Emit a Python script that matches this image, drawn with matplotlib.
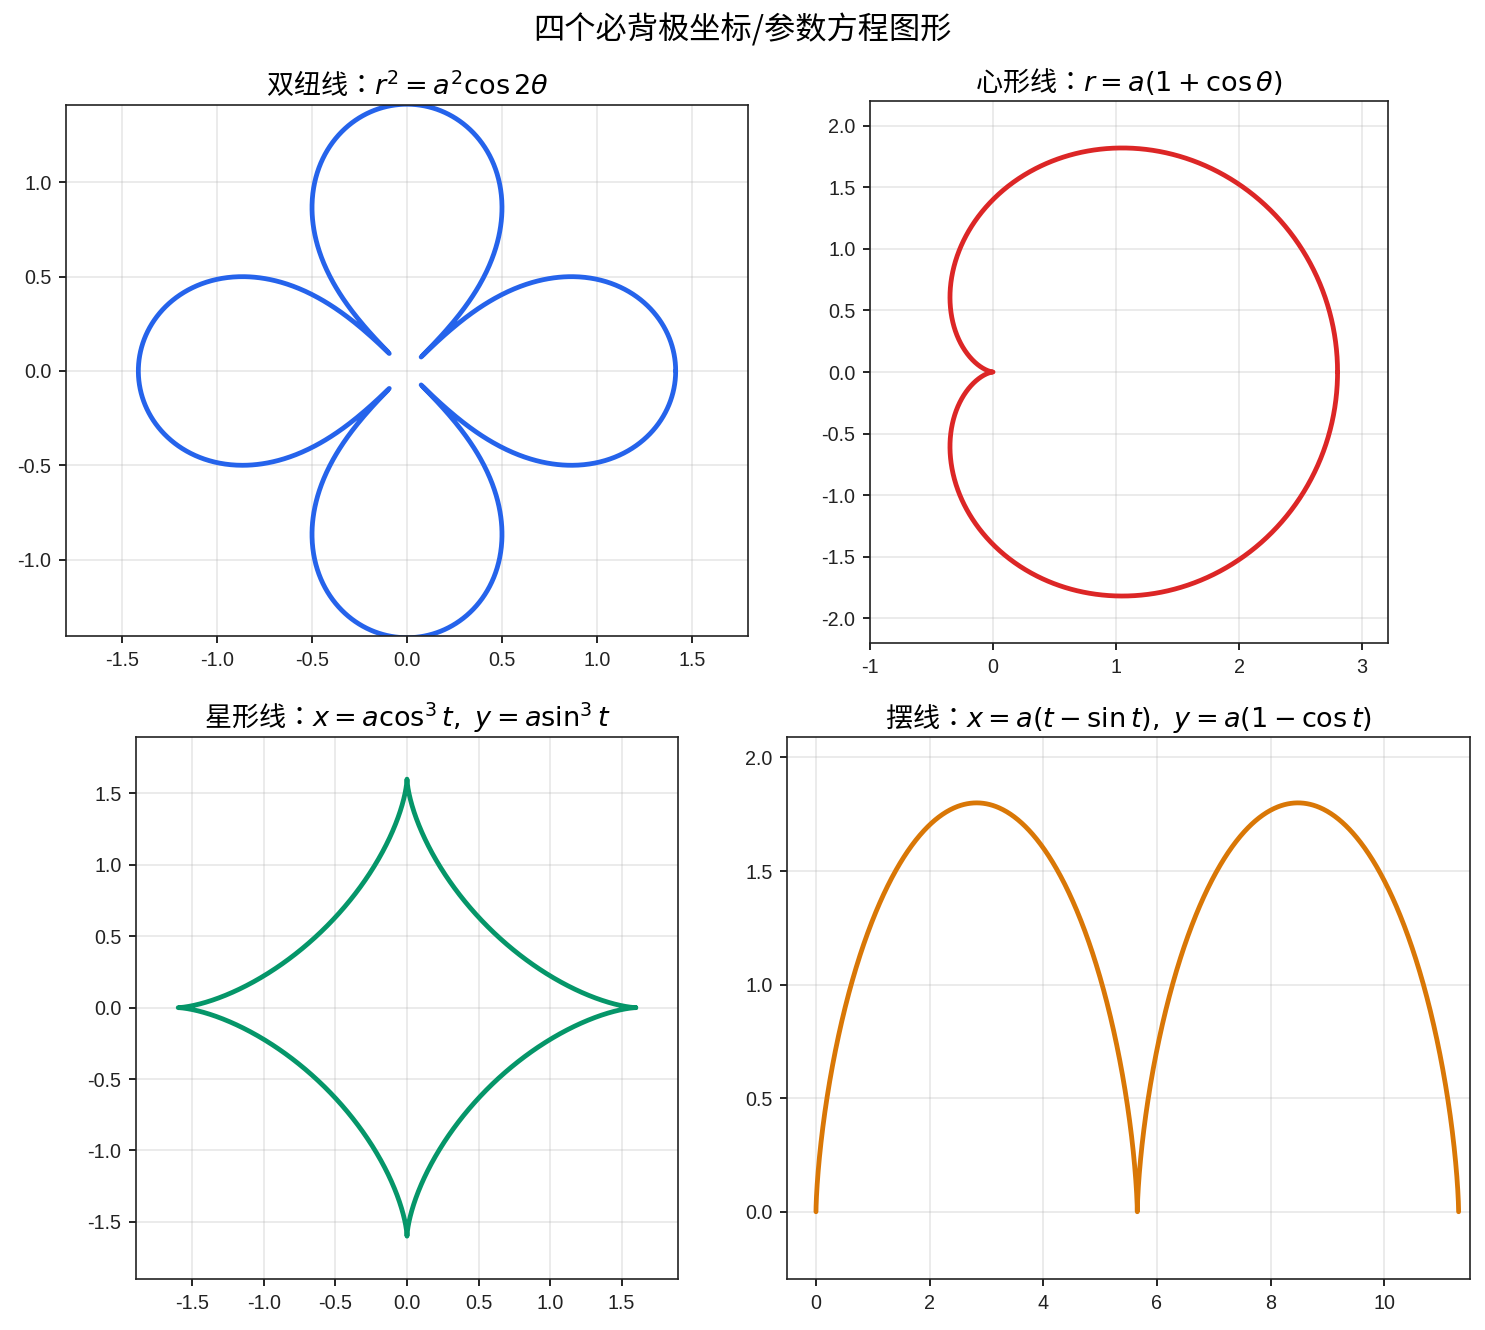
import numpy as np
from matplotlib import pyplot as plt

plt.rcParams['font.family'] = ['Noto Sans CJK TC', 'DejaVu Sans']
plt.rcParams['axes.unicode_minus'] = False

# curve parameters
lemniscate_a = np.sqrt(2)
cardioid_a = 1.4
astroid_a = 1.6
cycloid_a = 0.9

titles = [
    r'双纽线：$r^2 = a^2\cos 2\theta$',
    r'心形线：$r = a(1 + \cos\theta)$',
    r'星形线：$x = a\cos^3 t,\ y = a\sin^3 t$',
    r'摆线：$x = a(t - \sin t),\ y = a(1 - \cos t)$',
]
colors = ['#2563eb', '#dc2626', '#059669', '#d97706']

xticks = [
    [-1.5, -1.0, -0.5, 0.0, 0.5, 1.0, 1.5],
    [-1, 0, 1, 2, 3],
    [-1.5, -1.0, -0.5, 0.0, 0.5, 1.0, 1.5],
    [0, 2, 4, 6, 8, 10],
]
yticks = [
    [-1.0, -0.5, 0.0, 0.5, 1.0],
    [-2.0, -1.5, -1.0, -0.5, 0.0, 0.5, 1.0, 1.5, 2.0],
    [-1.5, -1.0, -0.5, 0.0, 0.5, 1.0, 1.5],
    [0.0, 0.5, 1.0, 1.5, 2.0],
]
xlims = [(-1.795, 1.795), (-1.0, 3.21), (-1.895, 1.895), (-0.51, 11.51)]
ylims = [(-1.405, 1.41), (-2.2, 2.2), (-1.9, 1.895), (-0.296, 2.09)]

W, H = 1485, 1330
boxes = [(66, 105, 748, 636), (870, 101, 1388, 643),
         (136, 737, 678, 1279), (787, 737, 1470, 1279)]


def curves():
    th = np.linspace(0, 2 * np.pi, 2000)
    r = lemniscate_a * np.sqrt(np.abs(np.cos(2 * th)))
    r = np.where(r < 0.09, np.nan, r)
    yield r * np.cos(th), r * np.sin(th)

    r = cardioid_a * (1 + np.cos(th))
    yield r * np.cos(th), r * np.sin(th)

    yield astroid_a * np.cos(th) ** 3, astroid_a * np.sin(th) ** 3

    t = np.linspace(0, 4 * np.pi, 2000)
    yield cycloid_a * (t - np.sin(t)), cycloid_a * (1 - np.cos(t))


fig = plt.figure(figsize=(W / 150, H / 150), dpi=150)
fig.suptitle('四个必背极坐标/参数方程图形', fontsize=15, y=0.99)

for i, (x, y) in enumerate(curves()):
    l, t, r, b = boxes[i]
    ax = fig.add_axes([l / W, 1 - b / H, (r - l) / W, (b - t) / H])
    ax.plot(x, y, color=colors[i], linewidth=2.3, solid_capstyle='round')
    ax.set_xlim(*xlims[i])
    ax.set_ylim(*ylims[i])
    ax.set_xticks(xticks[i])
    ax.set_yticks(yticks[i])
    ax.set_title(titles[i], fontsize=13, pad=5)
    ax.grid(True, alpha=0.3)
    for lab in ax.get_xticklabels() + ax.get_yticklabels():
        lab.set_family('Liberation Sans')
        lab.set_fontsize(9.5)
        lab.set_color('#222222')
    for s in ax.spines.values():
        s.set_color('#222222')

fig.savefig('out.png', dpi=150)
